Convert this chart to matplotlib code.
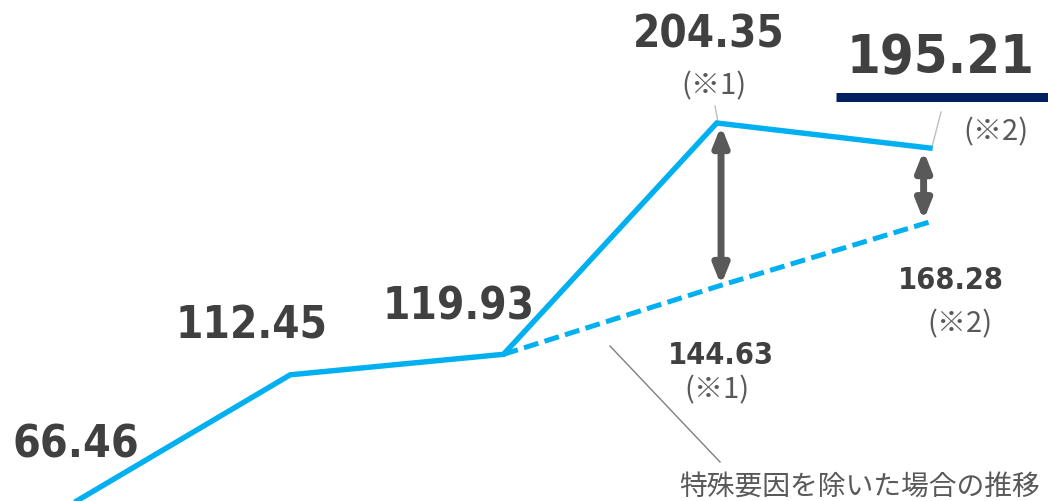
import matplotlib
matplotlib.use("Agg")
from matplotlib import pyplot as plt

# Actual results by period, plus the trend excluding special factors
periods = [0, 1, 2, 3, 4]
actual = [66.46, 112.45, 119.93, 204.35, 195.21]
adj_periods = [2, 3, 4]
adjusted = [119.93, 144.63, 168.28]
adj_notes = ["(※1)", "(※2)"]
adj_caption = "特殊要因を除いた場合の推移"

BLUE = "#00b0f0"
TEXT = "#404040"
NOTE = "#595959"
ARROW = "#595959"
NAVY = "#002060"

plt.rcParams['font.family'] = ['DejaVu Sans']

fig = plt.figure(figsize=(10.48, 5.02), dpi=100)
ax = fig.add_axes([0, 0, 1, 1])
ax.set_xlim(-0.3611, 4.5533)
ax.set_ylim(66.39, 249.61)
ax.axis('off')

ax.plot(periods, actual, color=BLUE, lw=3.9, solid_joinstyle='miter', zorder=3)
ax.plot(adj_periods, adjusted, color=BLUE, lw=3.6, dashes=(3.0, 1.3), zorder=3)

# value labels, offsets in pixels from the point (center x, baseline y)
num_font = dict(family='DejaVu Sans', fontstretch='condensed', fontweight='bold',
                color=TEXT, ha='center', va='baseline')
label_offsets = [(-1, 44), (-39, 37), (-45, 36), (-8, 77), (11, 76)]
label_sizes = [32, 31.5, 31.5, 31.5, 39]
for x, v, off, fs in zip(periods, actual, label_offsets, label_sizes):
    ax.annotate(f"{v:.2f}", (x, v), xytext=off, textcoords='offset pixels',
                fontsize=fs, **num_font)

adj_offsets = [(4, -76), (21, -66)]
for x, v, off in zip(adj_periods[1:], adjusted[1:], adj_offsets):
    ax.annotate(f"{v:.2f}", (x, v), xytext=off, textcoords='offset pixels',
                fontsize=22, **num_font)

# footnote markers
note_font = dict(family=['Noto Sans CJK JP', 'DejaVu Sans'], color=NOTE,
                 fontsize=21, ha='center', va='center')
ax.annotate(adj_notes[0], (3, actual[3]), xytext=(-3, 38), textcoords='offset pixels', **note_font)
ax.annotate(adj_notes[1], (4, actual[4]), xytext=(66, 17), textcoords='offset pixels', **note_font)
ax.annotate(adj_notes[0], (3, adjusted[1]), xytext=(0, -103), textcoords='offset pixels', **note_font)
ax.annotate(adj_notes[1], (4, adjusted[2]), xytext=(30, -102), textcoords='offset pixels', **note_font)

# gap arrows between actual and adjusted
for x, top, bottom in [(3.02, actual[3], adjusted[1]), (3.97, actual[4], adjusted[2])]:
    ax.annotate('', xy=(x, bottom), xytext=(x, top),
                arrowprops=dict(arrowstyle='<|-|>,head_length=0.8,head_width=0.32',
                                mutation_scale=14, lw=5, color=ARROW,
                                shrinkA=2, shrinkB=1), zorder=2)

# leader lines and underline for the latest figure
W, H = 1048, 502
def px(x, y):
    return x / W, 1 - y / H

for (x0, y0), (x1, y1), c in [((715, 107), (718, 123), '#bfbfbf'),
                              ((941, 113), (932, 148), '#bfbfbf'),
                              ((610, 347), (720, 463), '#7f7f7f')]:
    a, b = px(x0, y0), px(x1, y1)
    ax.plot([a[0], b[0]], [a[1], b[1]], transform=ax.transAxes, color=c, lw=1.0)

a, b = px(836, 97.5), px(1048, 97.5)
ax.plot([a[0], b[0]], [a[1], b[1]], transform=ax.transAxes, color=NAVY, lw=6.5,
        solid_capstyle='butt')

cx, cy = px(860, 487)
ax.text(cx, cy, adj_caption, transform=ax.transAxes, fontsize=20, color=NOTE,
        family=['Noto Sans CJK JP', 'DejaVu Sans'], ha='center', va='center')

fig.savefig("out.png", dpi=100)
